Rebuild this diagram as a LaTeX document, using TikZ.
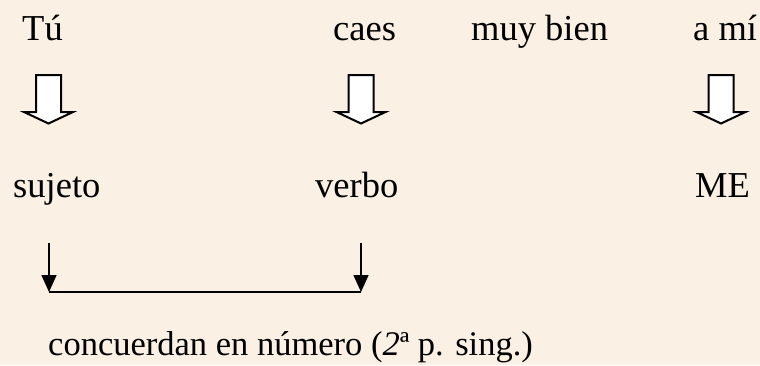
\documentclass[tikz,border=0pt]{standalone}
\usepackage{fontspec}
\setmainfont{Liberation Serif}
\usetikzlibrary{arrows.meta}
\definecolor{bgcream}{RGB}{250,241,228}
\tikzset{
  word/.style={anchor=base west, inner sep=0pt, font=\fontsize{36.5}{40}\selectfont, text=black},
  blockarrow/.style={draw=black, fill=white, line width=2pt, line join=miter},
  thinarrow/.style={draw=black, line width=1.6pt, -{Triangle[length=17pt,width=15pt]}},
  bracketline/.style={draw=black, line width=1.6pt}
}
\newcommand{\blockdown}[2]{% center x, top y
  \path[blockarrow] (#1-12.5,#2) -- (#1+12.5,#2) -- (#1+12.5,#2+37) -- (#1+24.5,#2+37)
    -- (#1,#2+48.5) -- (#1-24.5,#2+37) -- (#1-12.5,#2+37) -- cycle;}
\begin{document}
\begin{tikzpicture}[x=1pt,y=-1pt]
\fill[bgcream] (0,0) rectangle (760,365);
\useasboundingbox (0,0) rectangle (760,365);
% top words
\node[word] (tu) at (22,40) {Tú};
\node[word] (caes) at (333,40) {caes};
\node[word] (muy) at (471,40) {muy bien};
\node[word] (ami) at (693,40) {a mí};
% block arrows
\blockdown{48.5}{75}
\blockdown{361}{75}
\blockdown{721}{75}
% middle words
\node[word] (suj) at (13,197) {sujeto};
\node[word] (verb) at (315,197) {verbo};
\node[word] (me) at (695,197) {ME};
% agreement arrows
\coordinate (a1) at (49,243);
\coordinate (b1) at (49,292);
\coordinate (a2) at (361,243);
\coordinate (b2) at (361,292);
\draw[thinarrow] (a1) -- (b1);
\draw[thinarrow] (a2) -- (b2);
\draw[bracketline] (b1) -- (b2);
% bottom text
\node[word, font=\fontsize{34.5}{40}\selectfont] (conc) at (48,355) {concuerdan en número (\textit{2}ª p. sing.)};
\end{tikzpicture}
\end{document}
